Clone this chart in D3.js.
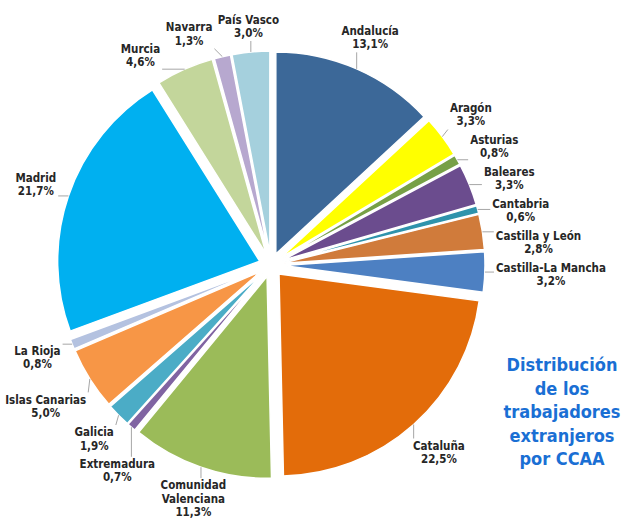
<!DOCTYPE html>
<html><head><meta charset="utf-8">
<script src="https://cdn.jsdelivr.net/npm/d3@7"></script>
<style>html,body{margin:0;padding:0;background:#fff;} svg{display:block;}</style>
</head><body><svg id="chart" width="639" height="520"></svg>
<script>
// ---- data ----
const regions = ["Andalucía","Aragón","Asturias","Baleares","Cantabria","Castilla y León","Castilla-La Mancha","Cataluña","Comunidad Valenciana","Extremadura","Galicia","Islas Canarias","La Rioja","Madrid","Murcia","Navarra","País Vasco"];
const shares = [13.1,3.3,0.8,3.3,0.6,2.8,3.2,22.5,11.3,0.7,1.9,5.0,0.8,21.7,4.6,1.3,3.0];
const sliceColors = ["#3c6898","#ffff00","#77a046","#6b4c8e","#2e93ac","#d07b3b","#4d80c2","#e36c0a","#9bbb59","#8064a2","#4bacc6","#f79646","#b4c2e0","#00b0f0","#c3d69b","#b7a8cf","#a5d0dd"];
const titleLines = ["Distribución","de los","trabajadores","extranjeros","por CCAA"];

// ---- layout ----
const W = 639, H = 520, cx = 271, cy = 265, R = 202, explode = 12, edge = 225;
const lineH = 13.3, labelFont = 11.5;
const svg = d3.select("#chart");
svg.append("rect").attr("width", W).attr("height", H).attr("fill", "#fff");
const g = svg.append("g").attr("transform", `translate(${cx},${cy})`);

const data = regions.map((r, i) => ({name: r, v: shares[i], color: sliceColors[i]}));
const pie = d3.pie().sort(null).value(d => d.v).startAngle(0).endAngle(2 * Math.PI);
const arcs = pie(data);
const arcGen = d3.arc().innerRadius(0).outerRadius(R);
const unit = a => [Math.sin(a), -Math.cos(a)];

g.selectAll("path.slice").data(arcs).join("path")
  .attr("class", "slice")
  .attr("d", arcGen)
  .attr("transform", d => { const m = (d.startAngle + d.endAngle) / 2, u = unit(m); return `translate(${u[0]*explode},${u[1]*explode})`; })
  .attr("fill", d => d.data.color)
  .attr("stroke", "#fff").attr("stroke-width", 1.5);

const fmt = v => v.toFixed(1).replace(".", ",") + "%";
const splitName = n => (n.length > 18 && n.includes(" ")) ? n.split(" ") : [n];

// labels
const labelG = g.append("g");
const lineG = g.insert("g", () => labelG.node());
const labels = arcs.map(d => {
  const lines = splitName(d.data.name).concat([fmt(d.data.v)]);
  const t = labelG.append("text")
    .attr("font-family", "'DejaVu Sans Condensed', 'DejaVu Sans', sans-serif")
    .attr("font-weight", "bold").attr("font-size", labelFont)
    .attr("fill", "#262626").attr("text-anchor", "middle");
  lines.forEach((l, k) => t.append("tspan").attr("x", 0).attr("y", k * lineH).text(l));
  const bb = t.node().getBBox();
  return {d, t, lines, w: bb.width, h: lines.length * lineH, mid: (d.startAngle + d.endAngle) / 2};
});

function nearestDist(x, y, w, h) {
  return Math.hypot(Math.max(0, Math.abs(x) - w / 2), Math.max(0, Math.abs(y) - h / 2));
}
function place(L, a) {
  const u = unit(a);
  let lo = 0, hi = 600;
  for (let k = 0; k < 50; k++) {
    const m = (lo + hi) / 2;
    if (nearestDist(m * u[0], m * u[1], L.w, L.h) < edge) lo = m; else hi = m;
  }
  L.a = a;
  L.x = lo * u[0]; L.y = lo * u[1];
  L.y = Math.max(-cy + L.h / 2 + 1, Math.min(H - cy - L.h / 2 - 1, L.y));
  L.x = Math.max(-cx + L.w / 2 + 2, Math.min(W - cx - L.w / 2 - 2, L.x));
}
function overlap(A, B, pad) {
  return Math.abs(A.x - B.x) < (A.w + B.w) / 2 + pad && Math.abs(A.y - B.y) < (A.h + B.h) / 2 + pad;
}
labels.forEach(L => place(L, L.mid));
const step = 0.2 * Math.PI / 180;
// right half: sweep clockwise from the top; left half: sweep counter-clockwise from the top
const right = labels.filter(L => L.mid < Math.PI);
const left = labels.filter(L => L.mid >= Math.PI).reverse();
const placed = [];
[[right, 1], [left, -1]].forEach(([set, dir]) => {
  set.forEach(L => {
    let guard = 0;
    while (guard++ < 400 && placed.some(P => overlap(P, L, 5))) place(L, L.a + dir * step);
    placed.push(L);
  });
});

labels.forEach(L => {
  const top = L.y - L.h / 2;
  L.t.selectAll("tspan").attr("x", L.x).attr("y", (_, k) => top + k * lineH + 10.2);
  const u = unit(L.mid);
  const px = u[0] * (R + explode), py = u[1] * (R + explode);
  const qx = Math.max(L.x - L.w / 2 - 2, Math.min(L.x + L.w / 2 + 2, px));
  const qy = Math.max(L.y - L.h / 2 - 1, Math.min(L.y + L.h / 2 + 1, py));
  if (Math.hypot(qx - px, qy - py) > 4) {
    lineG.append("line").attr("x1", px).attr("y1", py).attr("x2", qx).attr("y2", qy)
      .attr("stroke", "#a6a6a6").attr("stroke-width", 1);
  }
});

// title
const title = svg.append("text")
  .attr("font-family", "'DejaVu Sans Condensed', 'DejaVu Sans', sans-serif")
  .attr("font-weight", "bold").attr("font-size", 18)
  .attr("fill", "#1a6fd4").attr("text-anchor", "middle");
titleLines.forEach((l, k) => title.append("tspan").attr("x", 562).attr("y", 371 + k * 23.5).text(l));
</script>
</body></html>
